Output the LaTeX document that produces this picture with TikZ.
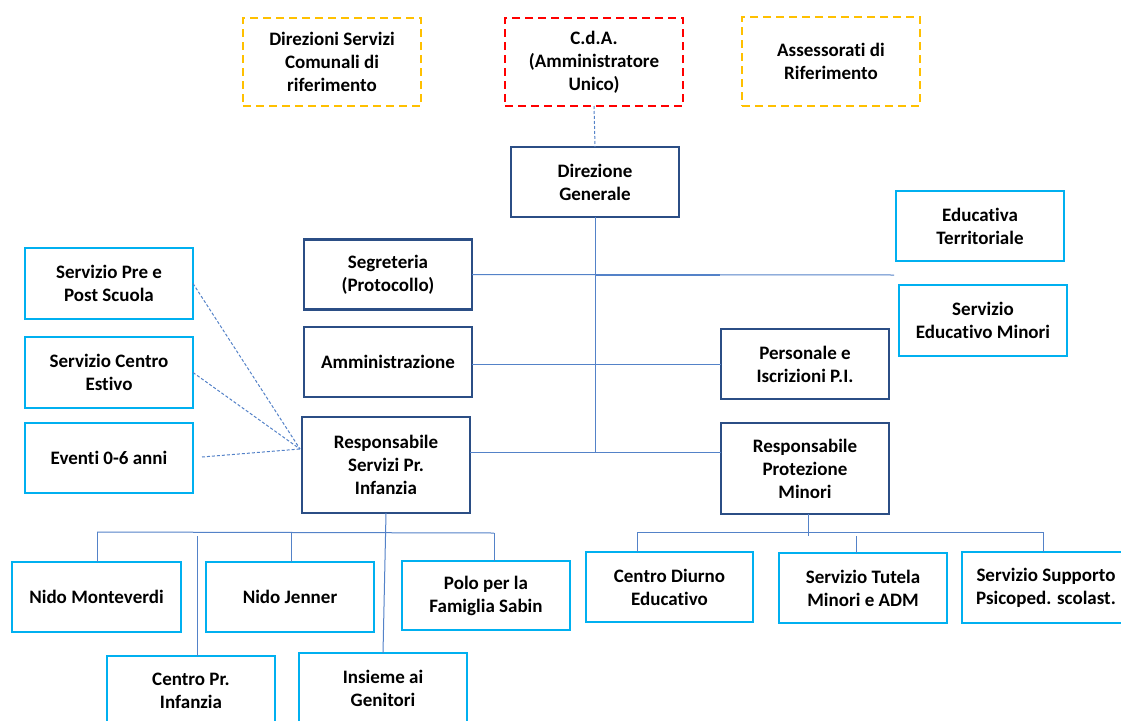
\documentclass[tikz,border=0pt]{standalone}
\usepackage{fontspec}
\setmainfont{Carlito}[Ligatures=NoCommon]
\definecolor{dkb}{HTML}{2B4E85}
\definecolor{cyb}{HTML}{00B0F0}
\definecolor{lnc}{HTML}{5482C8}
\definecolor{yel}{HTML}{FFC000}
\definecolor{rdc}{HTML}{FF0000}
\begin{document}
\begin{tikzpicture}[x=1pt,y=-1pt,
  base/.style={rectangle, inner sep=0pt, outer sep=0pt, align=center,
    font=\fontsize{19}{23}\selectfont\bfseries, text=black},
  dkbox/.style={base, draw=dkb, line width=2.2pt},
  cybox/.style={base, draw=cyb, line width=2.2pt},
  yelbox/.style={base, draw=yel, line width=2.4pt, dash pattern=on 8pt off 5pt},
  redbox/.style={base, draw=rdc, line width=2.4pt, dash pattern=on 8pt off 5pt},
  conn/.style={draw=lnc, line width=1pt},
  dconn/.style={draw=lnc, line width=1pt, dash pattern=on 3pt off 2pt}]
\useasboundingbox (0,0) rectangle (1121,720);
\fill[white] (0,0) rectangle (1121,720);

% top row
\node[yelbox, minimum width=178, minimum height=88] (dirs) at (332,62) {Direzioni Servizi\\Comunali di\\riferimento};
\node[redbox, minimum width=178, minimum height=88] (cda) at (594,62) {C.d.A.\\(Amministratore\\Unico)};
\node[yelbox, minimum width=178, minimum height=89] (ass) at (831,61.5) {Assessorati di\\Riferimento};

% main
\node[dkbox, minimum width=168, minimum height=70] (dg) at (595,182) {Direzione\\Generale};
\node[dkbox, minimum width=168, minimum height=70] (seg) at (388,274.5) {Segreteria\\(Protocollo)};
\node[dkbox, minimum width=168, minimum height=70] (amm) at (388,362) {Amministrazione};
\node[dkbox, minimum width=168, minimum height=70] (per) at (805,364) {Personale e\\Iscrizioni P.I.};
\node[dkbox, minimum width=168, minimum height=96] (rsi) at (386,465) {Responsabile\\Servizi Pr.\\Infanzia};
\node[dkbox, minimum width=168, minimum height=91] (rpm) at (805,468.5) {Responsabile\\Protezione\\Minori};

% right
\node[cybox, minimum width=168, minimum height=70] (edt) at (980,226) {Educativa\\Territoriale};
\node[cybox, minimum width=168, minimum height=71] (sem) at (983,320.5) {Servizio\\Educativo Minori};

% left
\node[cybox, minimum width=168, minimum height=71] (pre) at (109,283.5) {Servizio Pre e\\Post Scuola};
\node[cybox, minimum width=168, minimum height=71] (est) at (109,372.5) {Servizio Centro\\Estivo};
\node[cybox, minimum width=168, minimum height=70] (eve) at (109,458) {Eventi 0-6 anni};

% bottom left
\node[cybox, minimum width=169, minimum height=70] (nmo) at (96.5,597) {Nido Monteverdi};
\node[cybox, minimum width=168, minimum height=70] (nje) at (290,597) {Nido Jenner};
\node[cybox, minimum width=168, minimum height=69] (pol) at (486,595.5) {Polo per la\\Famiglia Sabin};
\node[cybox, minimum width=168, minimum height=70] (cpi) at (191,691) {Centro Pr.\\Infanzia};
\node[cybox, minimum width=168, minimum height=70] (ins) at (383,688) {Insieme ai\\Genitori};

% bottom right
\node[cybox, minimum width=167, minimum height=70] (cde) at (669.5,587) {Centro Diurno\\Educativo};
\node[cybox, minimum width=168, minimum height=70] (stm) at (863,588) {Servizio Tutela\\Minori e ADM};
\node[cybox, minimum width=168, minimum height=71] (ssp) at (1046,587.5) {Servizio Supporto\\Psicoped. scolast.};

% connectors
\coordinate (jr) at (597,452);
\draw[dconn] (cda.south) -- (dg.north);
\draw[conn] (dg.south) -- (dg.south |- jr);
\coordinate (segend) at (894,275);
\draw[conn] (seg.east) -- (segend);
\draw[conn, line width=2pt] (dg.south |- seg.east) -- ++(125,0);
\draw[conn] (amm.east |- per.west) -- (per.west);
\draw[conn] (rsi.east |- jr) -- (rpm.west |- jr);

\coordinate (dj) at (300,449);
\coordinate (evs) at (202,457);
\draw[dconn] (pre.east) -- (dj);
\draw[dconn] (est.east) -- (dj);
\draw[dconn] (evs) -- (dj);

% bottom left tree
\coordinate (bl1) at (97,532);
\coordinate (bl2) at (494,533);
\coordinate (bnj) at (291,532.5);
\coordinate (bcp) at (197,536);
\draw[conn] (rsi.south) -- (ins.north);
\draw[conn] (bl1) -- (bl2);
\draw[conn] (bl1) -- (bl1 |- nmo.north);
\draw[conn] (bnj) -- (bnj |- nje.north);
\draw[conn] (bl2) -- (bl2 |- pol.north);
\draw[conn] (bcp) -- (bcp |- cpi.north);

% bottom right tree
\coordinate (br0) at (808,536);
\coordinate (br1) at (637,532);
\coordinate (br2) at (1043,532);
\coordinate (bst) at (856,536);
\draw[conn] (br0 |- rpm.south) -- (br0);
\draw[conn] (br1) -- (br2);
\draw[conn] (br1) -- (br1 |- cde.north);
\draw[conn] (bst) -- (bst |- stm.north);
\draw[conn] (br2) -- (br2 |- ssp.north);
\end{tikzpicture}
\end{document}
